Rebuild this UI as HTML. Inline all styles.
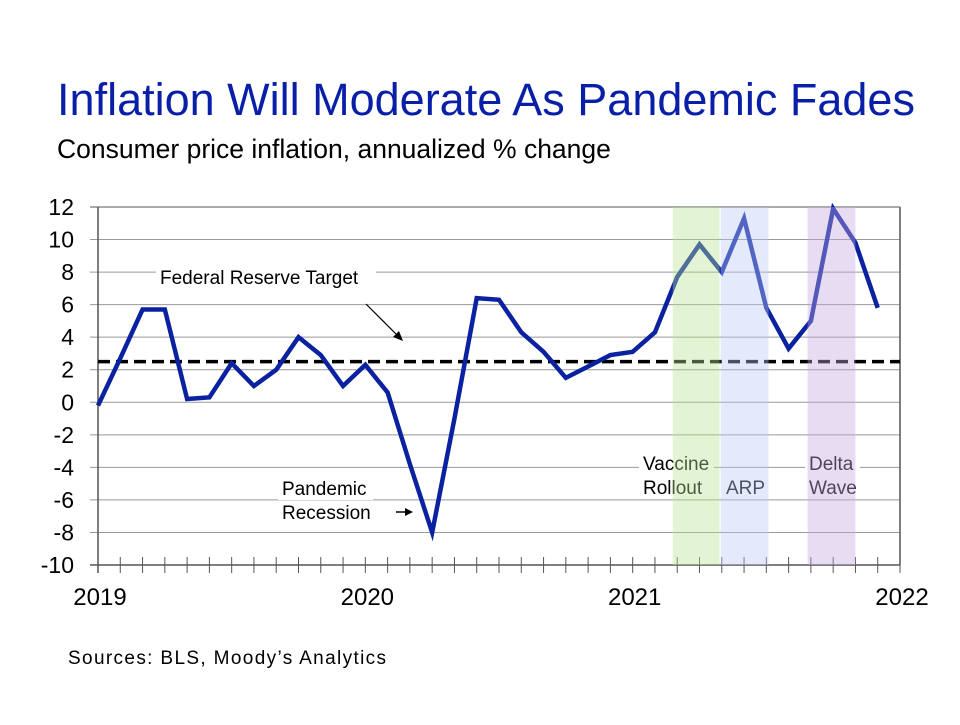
<!DOCTYPE html>
<html><head><meta charset="utf-8"><style>
body{margin:0;background:#fff;}
svg text{font-family:"Liberation Sans",Arial,sans-serif;}
</style></head><body>
<svg width="960" height="720" viewBox="0 0 960 720">
<text x="486" y="115" text-anchor="middle" font-size="45" fill="#0a1fa8">Inflation Will Moderate As Pandemic Fades</text>
<text x="57" y="158" font-size="26.5" fill="#000">Consumer price inflation, annualized % change</text>
<g id="grid"></g>
<g id="axes"></g>
<g id="labels"></g>
<g id="series"></g>
<g id="bands"></g>
<text x="68" y="664" font-size="19" textLength="318" fill="#000">Sources: BLS, Moody’s Analytics</text>
</svg>
<script>
const yTicks=[12,10,8,6,4,2,0,-2,-4,-6,-8,-10];
const yearLabels=["2019","2020","2021","2022"];
const cpi=[-0.2,2.7,5.7,5.7,0.2,0.3,2.4,1.0,2.0,4.0,2.9,1.0,2.3,0.6,-3.8,-8.0,-1.0,6.4,6.3,4.3,3.1,1.5,2.2,2.9,3.1,4.3,7.7,9.7,8.0,11.3,5.8,3.3,5.0,11.9,9.8,5.8];
const fedTarget=2.5;
const bandStarts=[25.8,27.95,31.85];
const bandEnds=[27.9,30.1,34.0];
const bandNames=["vaccine-band","arp-band","delta-band"];
const NS="http://www.w3.org/2000/svg";
const X0=98,X1=900,Y0=207,Y1=565;
const xs=m=>X0+m*(X1-X0)/36;
const ys=v=>Y0+(12-v)*(Y1-Y0)/22;
function mk(tag,attrs,parent,text){const e=document.createElementNS(NS,tag);for(const k in attrs)e.setAttribute(k,attrs[k]);if(text!==undefined)e.textContent=text;parent.appendChild(e);return e;}
const grid=document.getElementById('grid'),axes=document.getElementById('axes'),labels=document.getElementById('labels'),series=document.getElementById('series'),bands=document.getElementById('bands');
yTicks.forEach(v=>{
 const l=mk('line',{x1:90,x2:X1,y1:ys(v),y2:ys(v),stroke:v===12?'#555':'#999','stroke-width':1},grid);
 
 
 const t=mk('text',{x:74,y:ys(v)+8,'text-anchor':'end','font-size':23},axes,String(v));
 
 
});
mk('line',{x1:X0,x2:X0,y1:Y0,y2:Y1+8,stroke:'#555','stroke-width':1.5},axes);
mk('line',{x1:X1,x2:X1,y1:Y0,y2:Y1,stroke:'#555','stroke-width':1.5},axes);
mk('line',{x1:90,x2:X1,y1:Y1,y2:Y1,stroke:'#555','stroke-width':1.5},axes);
for(let m=0;m<=36;m++){mk('line',{x1:xs(m),x2:xs(m),y1:Y1-8,y2:Y1+8,stroke:'#555','stroke-width':1},axes);}
yearLabels.forEach((y,i)=>{
 const t=mk('text',{x:xs(i*12)+2,y:605,'text-anchor':'middle','font-size':24},axes,y);
 
 
});
const ann=[["Federal Reserve Target",160,284,220,22],["Pandemic",282,495,95,22],["Recession",282,519,100,22],["Vaccine",643,470,75,22],["Rollout",643,494,72,22],["ARP",726,494,45,22],["Delta",809,470,55,22],["Wave",809,494,55,22]];
ann.forEach(a=>{
 mk('rect',{x:a[1]-4,y:a[2]-17,width:a[3],height:a[4],fill:'#fff'},labels);
 const t=mk('text',{x:a[1],y:a[2],'font-size':19},labels,a[0]);
 
 
});
mk('line',{x1:366,x2:400,y1:304,y2:338,stroke:'#000','stroke-width':1.2},labels);
mk('path',{d:'M403,341 L393,337 L399,331 Z',fill:'#000'},labels);
mk('line',{x1:396,x2:408,y1:512,y2:512,stroke:'#000','stroke-width':1.5},labels);
mk('path',{d:'M413,512 L405,508 L405,516 Z',fill:'#000'},labels);
const dash=mk('line',{x1:X0,x2:X1,y1:ys(fedTarget),y2:ys(fedTarget),stroke:'#000','stroke-width':3.5,'stroke-dasharray':'12 6'},series);


const pl=mk('polyline',{points:cpi.map((v,i)=>xs(i)+','+ys(v)).join(' '),fill:'none',stroke:'#0a22a0','stroke-width':4.5,'stroke-linejoin':'miter'},series);


const bandCols=['rgb(182,227,145)','rgb(187,202,247)','rgb(197,167,222)'];
bandStarts.forEach((s,i)=>{
 const r=mk('rect',{x:xs(s),y:Y0,width:xs(bandEnds[i])-xs(s),height:Y1-Y0,fill:bandCols[i],opacity:0.4},bands);
 
 
});
</script>
</body></html>
